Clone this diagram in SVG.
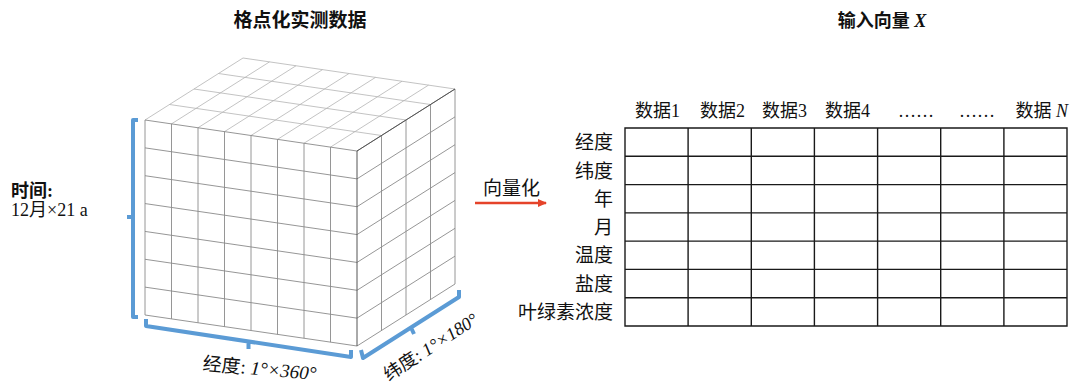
<svg xmlns="http://www.w3.org/2000/svg" width="1075" height="383" viewBox="0 0 1075 383">
<style>
text{font-family:"Liberation Serif","Noto Sans CJK SC",serif;fill:#111;}
.t{font-size:18px;}
.b{font-weight:bold;}
.top{fill:none;stroke:#b4b4b4;stroke-width:0.8;}
.face{fill:none;stroke:#8a8a8a;stroke-width:0.9;}
.edge{fill:none;stroke:#555;stroke-width:1;}
.br{fill:none;stroke:#5b9bd5;stroke-width:4;stroke-linejoin:round;stroke-linecap:butt;}
.tbl{fill:none;stroke:#1a1a1a;stroke-width:1.4;}
.lbl{font-size:19px;text-anchor:end;}
.hd{font-size:18px;}
</style>
<defs>
<marker id="ah" markerWidth="10" markerHeight="10" refX="8" refY="5" orient="auto" markerUnits="userSpaceOnUse">
<path d="M0,1 L9,5 L0,9 Z" fill="#e5432a"/>
</marker>
</defs>

<text class="b" x="300" y="27" font-size="19" text-anchor="middle">格点化实测数据</text>
<text class="b" x="882" y="27" font-size="18" text-anchor="middle">输入向量 <tspan font-style="italic">X</tspan></text>

<g id="cube">
<path class="top" d="M145,120 L243,58 M171.5,123.875 L269.5,61.875 M198,127.75 L296,65.75 M224.5,131.625 L322.5,69.625 M251,135.5 L349,73.5 M277.5,139.375 L375.5,77.375 M304,143.25 L402,81.25 M330.5,147.125 L428.5,85.125 M169.5,104.5 L381.5,135.5 M194,89 L406,120 M218.5,73.5 L430.5,104.5 M243,58 L455,89"/>
<path class="face" d="M145,120 L145,315 M171.5,123.875 L171.5,318.875 M198,127.75 L198,322.75 M224.5,131.625 L224.5,326.625 M251,135.5 L251,330.5 M277.5,139.375 L277.5,334.375 M304,143.25 L304,338.25 M330.5,147.125 L330.5,342.125 M145,120 L357,151 M145,147.86 L357,178.86 M145,175.71 L357,206.71 M145,203.57 L357,234.57 M145,231.43 L357,262.43 M145,259.29 L357,290.29 M145,287.14 L357,318.14 M145,315 L357,346"/>
<path class="face" d="M381.5,135.5 L381.5,330.5 M406,120 L406,315 M430.5,104.5 L430.5,299.5 M455,89 L455,284 M357,151 L455,89 M357,178.86 L455,116.86 M357,206.71 L455,144.71 M357,234.57 L455,172.57 M357,262.43 L455,200.43 M357,290.29 L455,228.29 M357,318.14 L455,256.14 M357,346 L455,284"/>
<path class="edge" d="M357,151 L357,346 M357,151 L455,89"/>
</g>

<g id="bracket-time">
<path class="br" d="M138,120 L133,120 L133,317 L138,317 M133,217 L127,217"/>
<text class="t b" x="11" y="197">时间:</text>
<text class="t" x="11" y="216">12月×21 a</text>
</g>

<g id="bracket-lon">
<path class="br" d="M146,319 L146,326 L351,357 L351,350 M248.5,341.5 L248.5,349"/>
<text font-size="19" transform="translate(259,375) rotate(5)" text-anchor="middle">经度: <tspan font-style="italic">1°×360°</tspan></text>
</g>

<g id="bracket-lat">
<path class="br" d="M361,350 L363,358 L459,297 L459,290 M411,327.5 L414,334"/>
<text font-size="18" transform="translate(434,352) rotate(-33)" text-anchor="middle">纬度: <tspan font-style="italic">1°×180°</tspan></text>
</g>

<g id="connectors">
<line x1="475" y1="203" x2="546" y2="203" stroke="#e5432a" stroke-width="2.5" marker-end="url(#ah)"/>
<text font-size="19" x="483" y="195">向量化</text>
</g>

<g id="table">
<path class="tbl" d="M625,128 H1067 V326 H625 Z M688.1,128 V326 M751.3,128 V326 M814.4,128 V326 M877.6,128 V326 M940.7,128 V326 M1003.9,128 V326 M625,156.3 H1067 M625,184.6 H1067 M625,212.9 H1067 M625,241.1 H1067 M625,269.4 H1067 M625,297.7 H1067"/>
<text class="hd" x="635" y="117">数据1</text>
<text class="hd" x="700" y="117">数据2</text>
<text class="hd" x="762" y="117">数据3</text>
<text class="hd" x="825" y="117">数据4</text>
<text class="hd" x="898" y="117">……</text>
<text class="hd" x="959" y="117">……</text>
<text class="hd" x="1068" y="117" text-anchor="end">数据 <tspan font-style="italic">N</tspan></text>
<text class="lbl" x="613" y="149">经度</text>
<text class="lbl" x="613" y="177.5">纬度</text>
<text class="lbl" x="613" y="205.8">年</text>
<text class="lbl" x="613" y="234">月</text>
<text class="lbl" x="613" y="262.3">温度</text>
<text class="lbl" x="613" y="290.6">盐度</text>
<text class="lbl" x="613" y="318.9">叶绿素浓度</text>
</g>
</svg>
